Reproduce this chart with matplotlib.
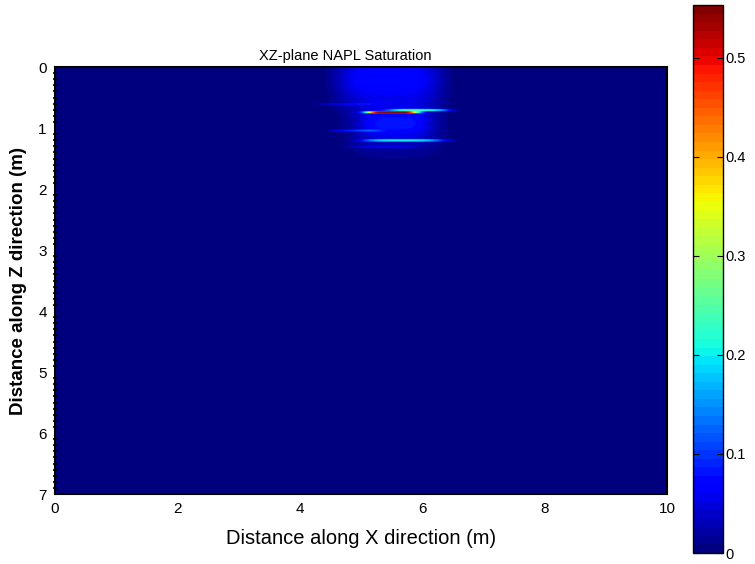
import numpy as np
import matplotlib.pyplot as plt

# domain (m)
x_max = 10.0
z_max = 7.0
x_ticks = [0, 2, 4, 6, 8, 10]
z_ticks = [0, 1, 2, 3, 4, 5, 6, 7]
cbar_ticks = [0, 0.1, 0.2, 0.3, 0.4, 0.5]
sat_max = 0.553

# NAPL features: centre x, centre z, spread x, spread z, peak saturation
feat_x = [5.45, 5.55, 5.55, 5.50, 5.95, 5.70, 4.90, 4.75, 5.30]
feat_z = [0.20, 0.95, 1.00, 0.755, 0.72, 1.215, 1.055, 0.62, 1.32]
feat_wx = [0.85, 0.55, 0.80, 0.42, 0.50, 0.68, 0.40, 0.50, 0.55]
feat_wz = [0.45, 0.25, 0.45, 0.017, 0.02, 0.022, 0.02, 0.018, 0.018]
feat_peak = [0.075, 0.05, 0.03, 0.53, 0.18, 0.16, 0.07, 0.04, 0.035]

xs = np.linspace(0, x_max, 601)
zs = np.linspace(0, z_max, 1401)
X, Z = np.meshgrid(xs, zs)
sat = np.zeros_like(X)
for xc, zc, wx, wz, pk in zip(feat_x, feat_z, feat_wx, feat_wz, feat_peak):
    pz = 2 if wz > 0.1 else 8  # thin lenses have sharp top and bottom
    sat += pk * np.exp(-((X - xc) / wx) ** 4 - np.abs((Z - zc) / wz) ** pz)
sat = np.clip(sat, 0, sat_max)

fig = plt.figure(figsize=(7.55, 5.64), dpi=100)
plt.rcParams['font.family'] = ['Liberation Sans', 'DejaVu Sans']

ax = fig.add_axes([0.0728, 0.1241, 0.8106, 0.7571])
im = ax.imshow(sat, extent=[0, x_max, z_max, 0], aspect='auto',
               cmap=plt.get_cmap('jet', 64), vmin=0, vmax=sat_max,
               interpolation='bilinear')
ax.set_xlim(0, x_max)
ax.set_ylim(z_max, 0)
ax.set_xticks(x_ticks)
ax.set_yticks(z_ticks)
ax.set_yticks(np.arange(0, z_max + 0.01, 0.1), minor=True)
ax.tick_params(axis='both', labelsize=11, length=0, pad=6)
ax.tick_params(axis='y', which='minor', direction='inout', length=3, width=1.2)
for s in ax.spines.values():
    s.set_linewidth(1.5)
ax.set_title('XZ-plane NAPL Saturation', fontsize=10.5, pad=5, x=0.474)
ax.set_xlabel('Distance along X direction (m)', fontsize=14.5, labelpad=9)
ax.set_ylabel('Distance along Z direction (m)', fontsize=13.5, fontweight='bold', labelpad=8)

cax = fig.add_axes([0.9179, 0.0195, 0.0397, 0.9716])
cb = fig.colorbar(im, cax=cax, ticks=cbar_ticks)
cb.ax.set_yticklabels(['0', '0.1', '0.2', '0.3', '0.4', '0.5'])
cb.ax.tick_params(direction='in', left=True, right=True, length=4, labelsize=10.5, pad=2)
cb.outline.set_linewidth(1)

fig.savefig('out.png', dpi=100)
